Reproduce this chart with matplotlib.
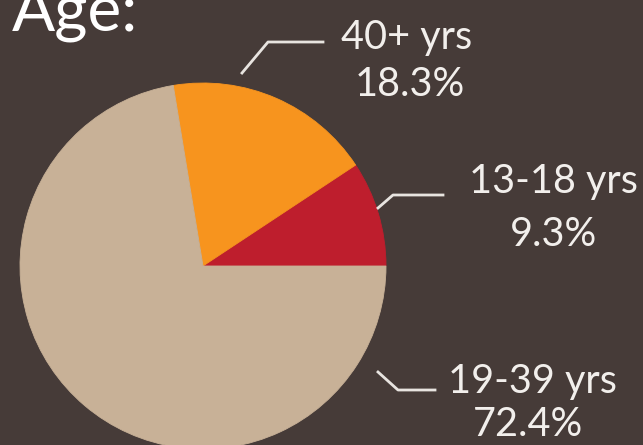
import matplotlib.pyplot as plt

groups = ['13-18 yrs', '40+ yrs', '19-39 yrs']
shares = [9.3, 18.3, 72.4]
colors = ['#be1e2d', '#f7941e', '#c8b197']

W, H = 643, 445
bg = '#463b38'

fig = plt.figure(figsize=(W / 100, H / 100), dpi=100, facecolor=bg)
ax = fig.add_axes([0, 0, 1, 1])
ax.set_facecolor(bg)

# pie in pixel coords (y flipped so that pie angles go counterclockwise)
cx, cy, r = 203, H - 266, 183
wedges, _ = ax.pie(shares, colors=colors, startangle=0, counterclock=True,
                   center=(cx, cy), radius=r)
for w, c in zip(wedges, colors):
    w.set_edgecolor(c)
    w.set_linewidth(0.6)
ax.set_xlim(0, W)
ax.set_ylim(0, H)
ax.set_aspect('equal')
ax.axis('off')

font = 'Lato'
txt = dict(color='#f2efec', family=font, fontsize=28.5,
           ha='center', va='center')

# leader lines (pixel positions, y from top)
leaders = [
    [(378, 208), (393, 195), (443, 195)],
    [(242, 73), (268, 42), (323, 42)],
    [(378, 372), (398, 390), (435, 390)],
]
label_pos = [((553, 182), (553, 235)),
             ((407, 38), (410, 84)),
             ((532, 382), (528, 424))]

for i, g in enumerate(groups):
    xs = [p[0] for p in leaders[i]]
    ys = [H - p[1] for p in leaders[i]]
    ax.plot(xs, ys, color='#e8e4e0', lw=2)
    (lx, ly), (px, py) = label_pos[i]
    ax.text(lx, H - ly, g, **txt)
    ax.text(px, H - py, f'{shares[i]}%', **txt)

ax.text(12, H - 30, 'Age:', color='white', family=font, fontsize=46,
        ha='left', va='baseline')

fig.savefig('out.png', dpi=100, facecolor=bg)
